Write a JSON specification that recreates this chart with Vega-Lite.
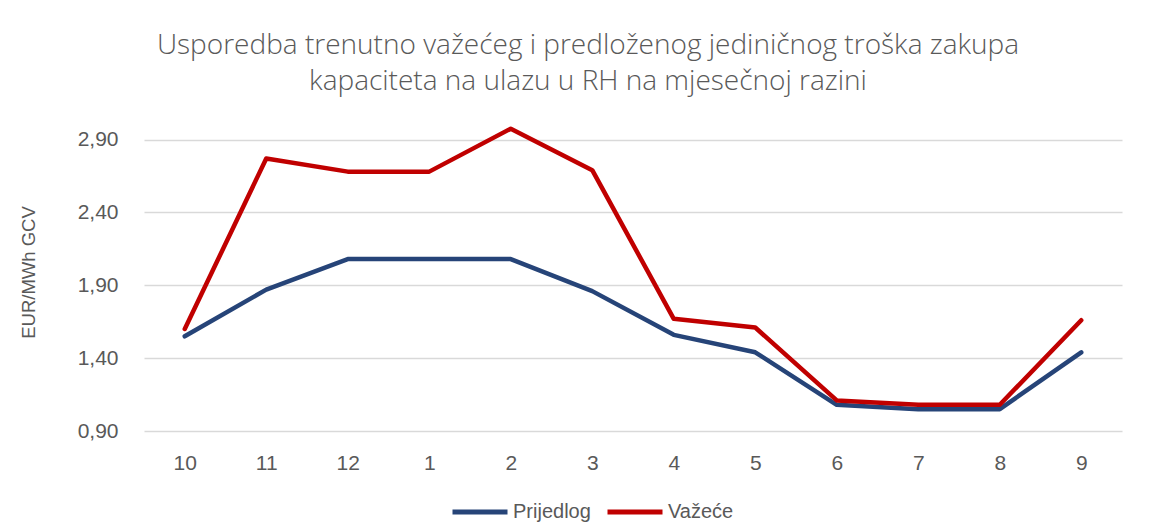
{
  "$schema": "https://vega.github.io/schema/vega-lite/v6.json",
  "autosize": "none",
  "width": 978,
  "height": 306,
  "padding": {"left": 144, "top": 125, "right": 41, "bottom": 100},
  "background": "white",
  "title": {
    "text": ["Usporedba trenutno važećeg i predloženog jediničnog troška zakupa", "kapaciteta na ulazu u RH na mjesečnoj razini"],
    "font": "Open Sans",
    "fontSize": 28,
    "fontWeight": 300,
    "color": "#595959",
    "anchor": "middle",
    "dx": -45,
    "offset": 29,
    "lineHeight": 36
  },
  "data": {
    "values": [
      {"month": "10", "series": "Prijedlog", "value": 1.55},
      {"month": "11", "series": "Prijedlog", "value": 1.87},
      {"month": "12", "series": "Prijedlog", "value": 2.08},
      {"month": "1", "series": "Prijedlog", "value": 2.08},
      {"month": "2", "series": "Prijedlog", "value": 2.08},
      {"month": "3", "series": "Prijedlog", "value": 1.86},
      {"month": "4", "series": "Prijedlog", "value": 1.56},
      {"month": "5", "series": "Prijedlog", "value": 1.44},
      {"month": "6", "series": "Prijedlog", "value": 1.08},
      {"month": "7", "series": "Prijedlog", "value": 1.05},
      {"month": "8", "series": "Prijedlog", "value": 1.05},
      {"month": "9", "series": "Prijedlog", "value": 1.44},
      {"month": "10", "series": "Važeće", "value": 1.6},
      {"month": "11", "series": "Važeće", "value": 2.77},
      {"month": "12", "series": "Važeće", "value": 2.68},
      {"month": "1", "series": "Važeće", "value": 2.68},
      {"month": "2", "series": "Važeće", "value": 2.975},
      {"month": "3", "series": "Važeće", "value": 2.69},
      {"month": "4", "series": "Važeće", "value": 1.67},
      {"month": "5", "series": "Važeće", "value": 1.61},
      {"month": "6", "series": "Važeće", "value": 1.11},
      {"month": "7", "series": "Važeće", "value": 1.08},
      {"month": "8", "series": "Važeće", "value": 1.08},
      {"month": "9", "series": "Važeće", "value": 1.66}
    ]
  },
  "mark": {"type": "line", "strokeWidth": 4.5, "strokeCap": "round", "strokeJoin": "round"},
  "encoding": {
    "x": {
      "field": "month",
      "type": "ordinal",
      "sort": ["10", "11", "12", "1", "2", "3", "4", "5", "6", "7", "8", "9"],
      "scale": {"type": "point", "padding": 0.5},
      "axis": {
        "title": null,
        "labelAngle": 0,
        "labelFont": "Liberation Sans",
        "labelFontSize": 21,
        "labelColor": "#595959",
        "labelPadding": 21,
        "ticks": false,
        "domain": false,
        "grid": false
      }
    },
    "y": {
      "field": "value",
      "type": "quantitative",
      "scale": {"domain": [0.9, 3.0], "nice": false, "zero": false},
      "axis": {
        "title": "EUR/MWh GCV",
        "titleFont": "Liberation Sans",
        "titleFontSize": 18.5,
        "titleFontWeight": "normal",
        "titleColor": "#595959",
        "titleX": -116,
        "titleY": 147,
        "titleAngle": -90,
        "titleAlign": "center",
        "titleBaseline": "middle",
        "values": [0.9, 1.4, 1.9, 2.4, 2.9],
        "format": ".2f",
        "labelExpr": "replace(datum.label, '.', ',')",
        "labelFont": "Liberation Sans",
        "labelFontSize": 21,
        "labelColor": "#595959",
        "labelPadding": 26,
        "ticks": false,
        "domain": false,
        "grid": true,
        "gridColor": "#D9D9D9",
        "gridWidth": 1.5
      }
    },
    "color": {
      "field": "series",
      "type": "nominal",
      "scale": {"domain": ["Prijedlog", "Važeće"], "range": ["#264478", "#C00000"]},
      "legend": {
        "title": null,
        "orient": "none",
        "legendX": 306,
        "legendY": 357,
        "direction": "horizontal",
        "symbolType": "stroke",
        "symbolSize": 3025,
        "symbolStrokeWidth": 5,
        "labelFont": "Liberation Sans",
        "labelFontSize": 20,
        "labelColor": "#595959",
        "labelOffset": 3,
        "columnPadding": 6
      }
    }
  },
  "config": {"view": {"stroke": null}}
}
